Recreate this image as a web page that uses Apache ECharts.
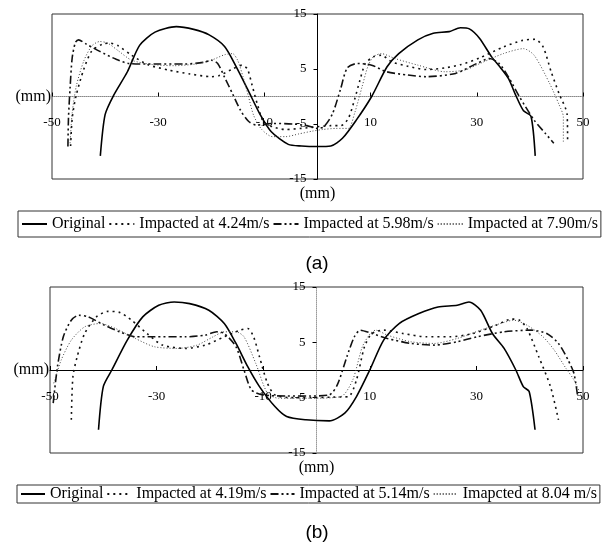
<!DOCTYPE html>
<html>
<head>
<meta charset="utf-8">
<script src="https://cdn.jsdelivr.net/npm/echarts@6/dist/echarts.min.js"></script>
<style>
html,body{margin:0;padding:0;background:#fff;}
#c{width:608px;height:546px;}
</style>
</head>
<body>
<div id="c"></div>
<script>
// ---------- DATA ----------
const xTickLabels = [-50, -30, -10, 10, 30, 50];
const yTickLabels = [-15, -5, 5, 15];

const namesA = ['Original', 'Impacted at 4.24m/s', 'Impacted at 5.98m/s', 'Impacted at 7.90m/s'];
const namesB = ['Original', 'Impacted at 4.19m/s', 'Impacted at 5.14m/s', 'Imapcted at 8.04 m/s'];

// Chart (a)
const aOriginal = [[-40.9,-10.8],[-40.0,-3.3],[-38.4,0.2],[-35.8,4.5],[-33.5,9.3],[-30.6,11.7],[-26.6,12.7],[-23.3,12.2],[-20.4,11.2],[-17.5,9.1],[-15.3,5.4],[-13.1,1.2],[-10.9,-3.1],[-8.7,-6.4],[-5.5,-8.7],[-3,-9.0],[0,-9.1],[2.5,-9.0],[4.7,-7.6],[7.3,-4.3],[10.2,0],[13.1,5.4],[15.3,7.8],[18.9,10.3],[21.8,11.5],[24.8,11.8],[26.9,12.5],[28.6,12.3],[30.5,10.6],[32.8,7.2],[34.5,5.2],[36.0,3.2],[37.3,0.3],[38.8,-2.6],[40.2,-3.6],[41.0,-10.8]];
const aImp424 = [[-46.5,-9],[-46.2,-4],[-45.5,0],[-44,5],[-42.5,8.3],[-40.5,9.5],[-39,9.7],[-37.5,9.2],[-35,7.5],[-32,5.8],[-28,4.8],[-24,4.1],[-20,3.6],[-18.5,3.8],[-16,5.0],[-14.2,5.7],[-13.2,5.0],[-12.3,2.0],[-11.3,-1.5],[-10.2,-4.5],[-8.5,-5.5],[-6,-6.0],[-3,-5.8],[0,-5.5],[2.5,-5.3],[4.4,-5.3],[5.8,-4.0],[7,-0.5],[8,3],[9,6],[10.5,7.2],[12,7.5],[14,6.3],[17,5.5],[20.5,4.9],[24,5.2],[27,5.8],[30.5,7.0],[35,9.0],[38.6,10.2],[41,10.4],[42.5,9.0],[44,4.5],[45.5,0.5],[47,-3.2],[47.1,-8.2]];
const aImp598 = [[-47,-9.1],[-46.9,-4],[-46.6,1.5],[-46.2,7],[-45.6,9.8],[-45,10.3],[-43.5,9.5],[-41,8.2],[-38,6.8],[-35.5,6.0],[-30.5,5.9],[-25,5.9],[-21.5,6.2],[-20,6.6],[-18.8,6.0],[-17.5,3.5],[-16,0.5],[-14.5,-2.5],[-13,-4.5],[-11.5,-5.2],[-8.5,-4.9],[-4.5,-5.0],[-2,-5.3],[0,-5.8],[1.2,-5.5],[2.8,-3.2],[4.3,1.2],[5.6,5.2],[7.5,6.0],[10.2,5.7],[13,4.5],[17,3.9],[20.5,3.6],[26,4.2],[30,6.0],[32.4,6.9],[34.2,6.0],[36,3.5],[38,0],[40.8,-4.3],[43,-6.8],[44.5,-8.5]];
const aImp790 = [[-46.6,-8.5],[-46.2,-3],[-45.4,2],[-44,6.5],[-42.5,9.2],[-41,10],[-39.5,9.7],[-37.5,8.3],[-35,6.6],[-31,5.8],[-27,5.6],[-23,5.9],[-20,6.6],[-17.5,7.6],[-16,7.8],[-15,6.5],[-14,3.5],[-13,0],[-12,-3.5],[-10.5,-6],[-8.5,-7.3],[-6,-7.3],[-3.5,-6.8],[-1,-6.3],[1,-6],[3.5,-5.8],[5.8,-5.8],[7,-3],[8.4,1.8],[9.5,5.5],[10.5,7.2],[12,7.8],[14.6,6.9],[18.9,5.7],[24,4.5],[27.7,4.8],[30.6,6.0],[35,7.8],[38.8,8.7],[40.8,7.5],[43.7,2.4],[45.5,-1.5],[46.3,-3.7],[46.3,-8.2]];

// Chart (b)
const bOriginal = [[-40.9,-10.8],[-40,-3],[-38.4,0],[-35.5,5.4],[-32.6,9.6],[-29.6,11.7],[-26.7,12.3],[-23.8,12.0],[-20.2,10.8],[-17.3,8.4],[-15.1,4.8],[-12.9,0.6],[-10.7,-3],[-7.8,-6.6],[-5.6,-8.4],[-2,-9.0],[2.4,-9.2],[5.3,-7.8],[7.5,-4.8],[10,0],[12.6,5.4],[15.5,8.4],[19.2,10.2],[22.8,11.4],[26.4,11.7],[28.6,12.3],[30.8,10.8],[33,6.6],[35.2,3.9],[37.4,0],[38.8,-3],[39.9,-3.9],[41,-10.8]];
const bImp419 = [[-46,-9],[-45.7,-1.2],[-44.9,2.4],[-43.5,6.6],[-41.3,9.6],[-39.1,10.6],[-36.9,10.4],[-34.7,9],[-31.8,6.6],[-28.9,4.5],[-24.5,3.9],[-20.9,4.5],[-17.3,6],[-14.3,7.2],[-12.9,7.5],[-11.8,6],[-10.7,2.4],[-9.2,-2.4],[-7.8,-4.5],[-4.9,-5],[-1.2,-5],[3.1,-4.9],[6,-4.8],[7.5,-1.8],[9,4.2],[10.4,6.6],[12.6,7.2],[16.2,6.6],[20.6,6],[25,6],[29.4,6.6],[33.7,8.1],[36.6,9.2],[38.1,9],[39.5,7.5],[41.7,2.4],[43.9,-3],[45.4,-9]];
const bImp514 = [[-49.4,-6],[-48.6,0.6],[-47.5,6],[-46,9],[-44.6,9.9],[-42.8,9.6],[-39.8,8.1],[-36.9,6.9],[-34,6],[-30.4,6],[-24.5,6],[-20.9,6.3],[-18.7,6.9],[-17.3,6.6],[-15.1,4.2],[-13.6,0],[-12.2,-3.6],[-10,-4.5],[-5.6,-4.7],[-1.2,-4.7],[2.4,-4.5],[3.9,-2.7],[5.7,2.4],[7.1,6],[8.2,7.2],[10.4,6.6],[13.3,5.7],[17.7,4.8],[22.1,4.5],[26.4,5.1],[30.1,6],[35.2,6.9],[40.3,7.2],[43.2,6.6],[45.4,4.8],[47.2,1.8],[48.3,-0.6],[49,-4.8]];
const bImp804 = [[-49.3,-2.4],[-47.9,1.8],[-46,5.4],[-43.5,7.8],[-40.6,8.4],[-37.7,7.5],[-34,5.7],[-30.4,4.2],[-26,3.9],[-22.4,4.5],[-19.4,6],[-17.3,6.9],[-15.1,6.9],[-13.6,6],[-11.4,1.2],[-9.2,-4.2],[-7.1,-5.1],[-1.2,-5.1],[4.6,-4.8],[6.8,-1.8],[8.6,4.2],[10.1,6.6],[11.1,7.2],[13.3,6.3],[17.7,5.1],[22.1,4.8],[26.4,5.7],[30.8,7.2],[34.5,8.4],[37,9],[39.5,8.1],[42.5,6],[44.6,3.6],[46.8,0.3],[48.3,-1.8],[49.7,-4.8]];

// ---------- STYLE ----------
const SERIF = '"Liberation Serif","Times New Roman",serif';
const styles = [
  {color:'#000', width:1.6, type:'solid'},
  {color:'#111', width:1.6, type:[2,4]},
  {color:'#111', width:1.6, type:[8,3,2,3,2,3]},
  {color:'#444', width:1, type:[1,2]}
];

function mkSeries(names, datas, gi){
  return datas.map((d,i)=>({
    type:'line', name:names[i], data:d,
    xAxisIndex:gi, yAxisIndex:gi,
    symbol:'none', smooth:0.25, silent:true,
    lineStyle:{color:styles[i].color, width:styles[i].width, type:styles[i].type},
    itemStyle:{color:styles[i].color},
    z:3
  }));
}

// grid geometry
const grids = [
  {left:52, right:25, top:14, height:165},
  {left:50, right:25, top:287, height:166}
];
const W = 608;

function mkX(gi, lineColor, lineType){
  const g = grids[gi];
  return {
    type:'value', gridIndex:gi, min:-50, max:50, interval:10,
    position:'bottom', offset:-g.height/2,
    name:'(mm)', nameLocation:'start', nameGap:1,
    nameTextStyle:{fontFamily:SERIF, fontSize:16, color:'#000', verticalAlign:'middle'},
    axisLine:{onZero:false, lineStyle:{color:lineColor, width:1, type:lineType}},
    axisTick:{show:true, inside:true, length:4, customValues:xTickLabels, lineStyle:{color:'#000'}},
    axisLabel:{customValues:xTickLabels, margin:20, fontFamily:SERIF, fontSize:13, color:'#000'},
    splitLine:{show:false}
  };
}
function mkY(gi, lineColor, lineType){
  const g = grids[gi];
  const w = W - g.left - g.right;
  return {
    type:'value', gridIndex:gi, min:-15, max:15,
    position:'left', offset:-w/2,
    name:'(mm)', nameLocation:'start', nameGap:6,
    nameTextStyle:{fontFamily:SERIF, fontSize:16, color:'#000'},
    axisLine:{onZero:false, lineStyle:{color:lineColor, width:1, type:lineType}},
    axisTick:{show:true, inside:false, length:4, customValues:yTickLabels, lineStyle:{color:'#000'}},
    axisLabel:{customValues:yTickLabels, margin:11, fontFamily:SERIF, fontSize:13, color:'#000'},
    splitLine:{show:false}
  };
}
function mkLegend(names, left, top, pad, iw){
  return {
    data:names, left:left, top:top, orient:'horizontal',
    itemWidth:iw, itemHeight:14, itemGap:3, selectedMode:false,
    padding:pad, borderColor:'#333', borderWidth:1,
    itemStyle:{color:'rgba(0,0,0,0)', borderColor:'rgba(0,0,0,0)', borderWidth:0, opacity:0},
    textStyle:{fontFamily:SERIF, fontSize:16, color:'#000', lineHeight:16}
  };
}

const chart = echarts.init(document.getElementById('c'), null, {renderer:'canvas'});
chart.setOption({
  backgroundColor:'#fff',
  animation:false,
  grid:grids.map(g=>Object.assign({show:true, borderColor:'#333', borderWidth:1, backgroundColor:'transparent'}, g)),
  xAxis:[mkX(0,'#888','dotted'), mkX(1,'#000','solid')],
  yAxis:[mkY(0,'#000','solid'), mkY(1,'#999','dotted')],
  legend:[mkLegend(namesA, 18, 211, [5,3,5,3], 25), mkLegend(namesB, 17, 485, [1,3,1,3], 24)],
  graphic:[
    {type:'text', x:317, y:264, style:{text:'(a)', font:'19px "Liberation Sans",Arial,sans-serif', fill:'#000', align:'center', verticalAlign:'middle', textAlign:'center', textVerticalAlign:'middle'}},
    {type:'text', x:317, y:533, style:{text:'(b)', font:'19px "Liberation Sans",Arial,sans-serif', fill:'#000', align:'center', verticalAlign:'middle', textAlign:'center', textVerticalAlign:'middle'}}
  ],
  series:[].concat(
    mkSeries(namesA, [aOriginal, aImp424, aImp598, aImp790], 0),
    mkSeries(namesB, [bOriginal, bImp419, bImp514, bImp804], 1)
  )
});
</script>
</body>
</html>
